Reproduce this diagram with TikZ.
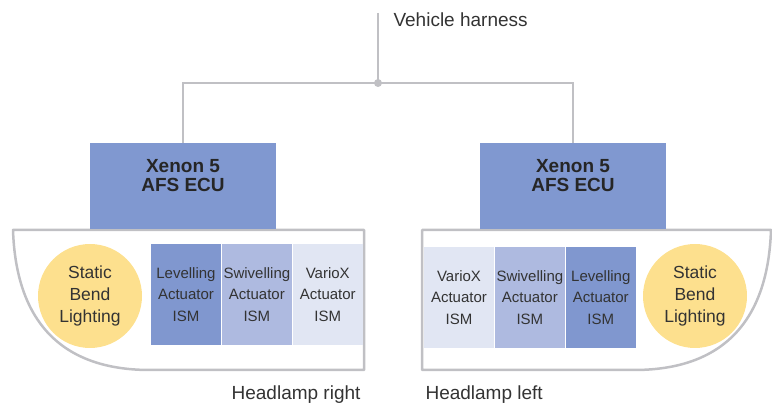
\documentclass[tikz,border=0pt]{standalone}
\usepackage{fontspec}
\setmainfont{Liberation Sans}
\usetikzlibrary{positioning}
\definecolor{wiregray}{RGB}{192,192,196}
\definecolor{ecublue}{RGB}{128,152,208}
\definecolor{levblue}{RGB}{128,151,207}
\definecolor{swiblue}{RGB}{174,186,224}
\definecolor{varblue}{RGB}{225,230,243}
\definecolor{sblyellow}{RGB}{253,224,142}
\definecolor{txtgray}{RGB}{51,51,51}

\begin{document}
\begin{tikzpicture}[
  x=1pt, y=-1pt,
  node distance=0pt and 0pt,
  ecu/.style={rectangle, fill=ecublue, minimum width=186pt, minimum height=86pt,
              inner sep=0pt},
  ecutext/.style={font=\fontsize{19}{19.3}\selectfont\bfseries, align=center,
                  text=black!85, yshift=10.5pt},
  ism/.style={rectangle, minimum width=70.5pt, minimum height=101pt, inner sep=0pt,
              font=\fontsize{15}{21.7}\selectfont, align=center, text=txtgray},
  sbl/.style={circle, fill=sblyellow, minimum size=104pt, inner sep=0pt,
              font=\fontsize{17.5}{21.7}\selectfont, align=center, text=txtgray},
  wire/.style={draw=wiregray, line width=2.5pt},
  housing/.style={draw=wiregray, line width=2.5pt, line join=round},
  caption/.style={font=\fontsize{19}{19}\selectfont, text=txtgray},
]
  \useasboundingbox (0,0) rectangle (772,403);

  % headlamp housings
  \draw[housing] (13,230) .. controls (16,320) and (60,370) .. (150,370)
    -- (364,370) -- (364,230) -- cycle;
  \draw[housing] (422,230) -- (422,370) -- (634,370)
    .. controls (724,370) and (768,320) .. (771,230) -- cycle;

  % control units
  \node[ecu, label={[ecutext]center:Xenon 5\\AFS ECU}] (ecuL) at (183,186) {};
  \node[ecu, label={[ecutext]center:Xenon 5\\AFS ECU}] (ecuR) at (573,186) {};

  % headlamp right
  \node[sbl] (sblL) at (90,296) {Static\\Bend\\Lighting};
  \node[ism, fill=levblue] (levL) at (186,294.5) {Levelling\\Actuator\\ISM};
  \node[ism, fill=swiblue, right=of levL] (swiL) {Swivelling\\Actuator\\ISM};
  \node[ism, fill=varblue, right=of swiL] (varL) {VarioX\\Actuator\\ISM};

  % headlamp left
  \node[ism, fill=varblue] (varR) at (459,297.5) {VarioX\\Actuator\\ISM};
  \node[ism, fill=swiblue, right=of varR] (swiR) {Swivelling\\Actuator\\ISM};
  \node[ism, fill=levblue, right=of swiR] (levR) {Levelling\\Actuator\\ISM};
  \node[sbl] (sblR) at (695,296) {Static\\Bend\\Lighting};

  % harness
  \coordinate (hTop) at (378,13);
  \coordinate (hJoin) at (378,83);
  \draw[wire] (hTop) -- (hJoin);
  \draw[wire] (ecuL.north) |- (hJoin) -| (ecuR.north);
  \fill[wiregray] (hJoin) circle (4pt);
  \node[caption, anchor=base west] (harness) at (390,27) {Vehicle harness};

  \node[caption, anchor=base east] (capR) at (364,400) {Headlamp right};
  \node[caption, anchor=base west] (capL) at (422,400) {Headlamp left};
\end{tikzpicture}
\end{document}
